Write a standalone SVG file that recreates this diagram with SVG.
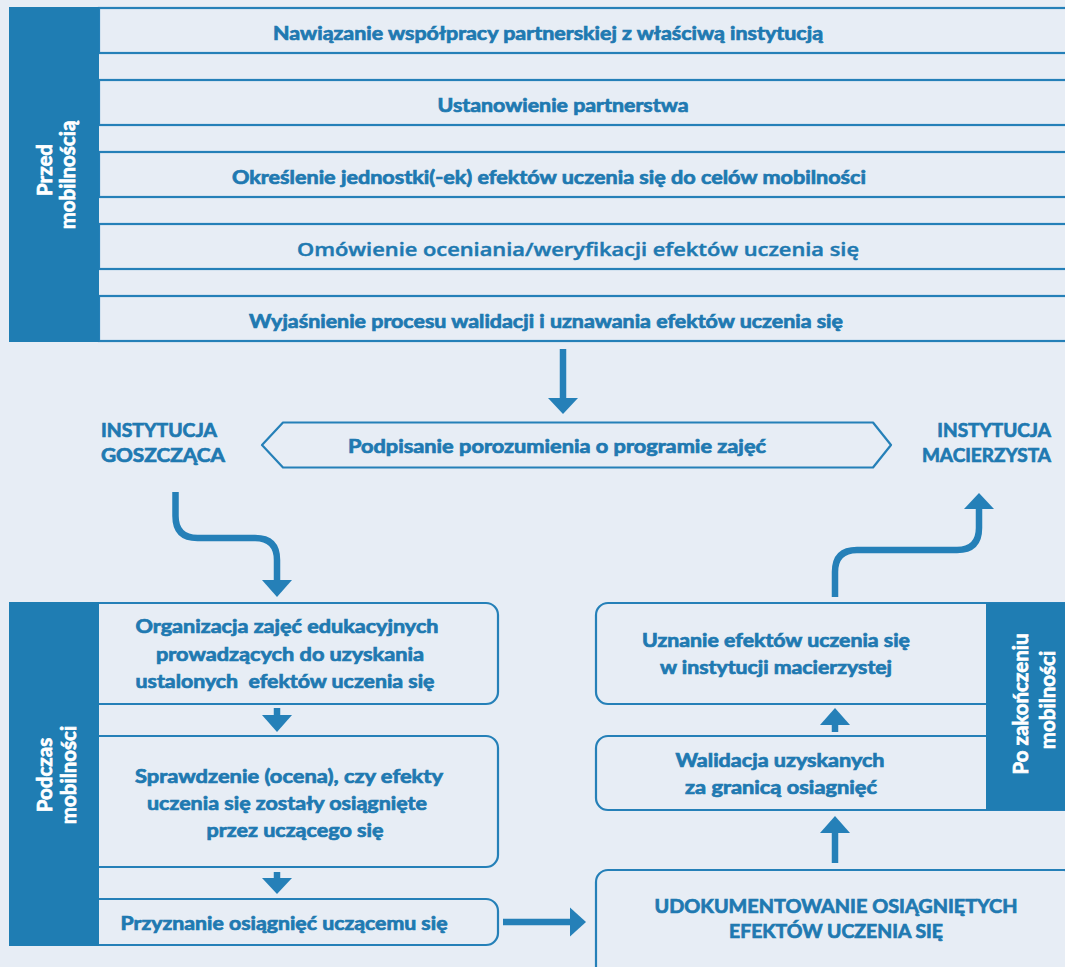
<svg xmlns="http://www.w3.org/2000/svg" width="1065" height="967" viewBox="0 0 1065 967">
<defs>
<style>
.bg{fill:#e7edf5}
.row{fill:#e7edf5;stroke:#2580b8;stroke-width:2.2}
.box{fill:#e7edf5;stroke:#2580b8;stroke-width:2.2}
.bar{fill:#1f7db3}
.t{font-family:Lato,"Liberation Sans","Noto Sans",sans-serif;font-weight:700;font-size:18.5px;fill:#2079b1;stroke:#2079b1;stroke-width:0.7;text-anchor:middle}
.o{font-family:"Open Sans","Noto Sans",sans-serif;font-weight:600;font-size:18px;fill:#2079b1;stroke:#2079b1;stroke-width:0.45;text-anchor:middle}
.w{font-family:Lato,"Liberation Sans","Noto Sans",sans-serif;font-weight:700;font-size:20.5px;fill:#ffffff;stroke:#ffffff;stroke-width:0.7;text-anchor:middle}
.big{font-family:Lato,"Liberation Sans","Noto Sans",sans-serif;font-weight:700;font-size:19px;fill:#2079b1;stroke:#2079b1;stroke-width:0.7}
.ln{fill:none;stroke:#2580b8;stroke-width:6.5}
.hd{fill:#2580b8}
</style>
</defs>
<rect class="bg" x="0" y="0" width="1065" height="967"/>

<g id="before">
<rect class="row" x="99" y="8" width="980" height="45"/>
<rect class="row" x="99" y="80" width="980" height="45"/>
<rect class="row" x="99" y="152" width="980" height="45"/>
<rect class="row" x="99" y="224" width="980" height="45"/>
<rect class="row" x="99" y="296" width="980" height="45"/>
<rect class="bar" x="9" y="7" width="90" height="335"/>
<text class="w" transform="translate(52,170) rotate(-90)">Przed</text>
<text class="w" transform="translate(75,175) rotate(-90)">mobilnością</text>
</g>
<g id="row1"><text class="t" x="548" y="40" textLength="550" lengthAdjust="spacingAndGlyphs">Nawiązanie współpracy partnerskiej z właściwą instytucją</text></g>
<g id="row2"><text class="t" x="563" y="112" textLength="251" lengthAdjust="spacingAndGlyphs">Ustanowienie partnerstwa</text></g>
<g id="row3"><text class="t" x="549" y="184" textLength="634" lengthAdjust="spacingAndGlyphs">Określenie jednostki(-ek) efektów uczenia się do celów mobilności</text></g>
<g id="row4"><text class="o" x="578" y="256" textLength="562" lengthAdjust="spacingAndGlyphs">Omówienie oceniania/weryfikacji efektów uczenia się</text></g>
<g id="row5"><text class="t" x="546" y="328" textLength="594" lengthAdjust="spacingAndGlyphs">Wyjaśnienie procesu walidacji i uznawania efektów uczenia się</text></g>

<g id="agreement">
<path d="M262,445 L283,422.5 H873 L891,445 L873,467.5 H283 Z" fill="#e7edf5" stroke="#2580b8" stroke-width="2.2" stroke-linejoin="round"/>
<text class="t" x="557" y="453" textLength="418" lengthAdjust="spacingAndGlyphs">Podpisanie porozumienia o programie zajęć</text>
</g>
<g id="host">
<text class="big" x="101" y="437" textLength="116" lengthAdjust="spacingAndGlyphs">INSTYTUCJA</text>
<text class="big" x="101" y="462" textLength="124" lengthAdjust="spacingAndGlyphs">GOSZCZĄCA</text>
</g>
<g id="home">
<text class="big" x="1051" y="437" text-anchor="end">INSTYTUCJA</text>
<text class="big" x="1051" y="462" text-anchor="end">MACIERZYSTA</text>
</g>

<g id="during">
<rect class="box" x="80" y="603" width="418" height="101" rx="12"/>
<rect class="box" x="80" y="736" width="418" height="131" rx="12"/>
<rect class="box" x="80" y="899" width="418" height="46" rx="12"/>
<rect class="bar" x="9" y="602" width="90" height="344"/>
<text class="w" transform="translate(52,775) rotate(-90)">Podczas</text>
<text class="w" transform="translate(76,775) rotate(-90)">mobilności</text>
</g>
<g id="organise">
<text class="t" x="287" y="633" textLength="303" lengthAdjust="spacingAndGlyphs">Organizacja zajęć edukacyjnych</text>
<text class="t" x="290" y="661" textLength="268" lengthAdjust="spacingAndGlyphs">prowadzących do uzyskania</text>
<text class="t" x="285" y="688" textLength="299" lengthAdjust="spacingAndGlyphs" style="white-space:pre">ustalonych  efektów uczenia się</text>
</g>
<g id="assess">
<text class="t" x="289" y="783" textLength="308" lengthAdjust="spacingAndGlyphs">Sprawdzenie (ocena), czy efekty</text>
<text class="t" x="287" y="810" textLength="280" lengthAdjust="spacingAndGlyphs">uczenia się zostały osiągnięte</text>
<text class="t" x="295" y="837" textLength="177" lengthAdjust="spacingAndGlyphs">przez uczącego się</text>
</g>
<g id="award">
<text class="t" x="284" y="930" textLength="327" lengthAdjust="spacingAndGlyphs">Przyznanie osiągnięć uczącemu się</text>
</g>

<g id="after">
<rect class="box" x="596" y="603" width="480" height="101" rx="12"/>
<rect class="box" x="596" y="736" width="480" height="74" rx="12"/>
<rect class="bar" x="986" y="603" width="79" height="207"/>
<text class="w" transform="translate(1028,704) rotate(-90)">Po zakończeniu</text>
<text class="w" transform="translate(1055,700) rotate(-90)">mobilności</text>
</g>
<g id="recognise">
<text class="t" x="776" y="647" textLength="268" lengthAdjust="spacingAndGlyphs">Uznanie efektów uczenia się</text>
<text class="t" x="776" y="674" textLength="232" lengthAdjust="spacingAndGlyphs">w instytucji macierzystej</text>
</g>
<g id="validate">
<text class="t" x="780" y="767" textLength="209" lengthAdjust="spacingAndGlyphs">Walidacja uzyskanych</text>
<text class="t" x="781" y="794" textLength="192" lengthAdjust="spacingAndGlyphs">za granicą osiagnięć</text>
</g>
<g id="document">
<rect class="box" x="596" y="870" width="480" height="110" rx="12"/>
<text class="t" x="836" y="913" textLength="363" lengthAdjust="spacingAndGlyphs">UDOKUMENTOWANIE OSIĄGNIĘTYCH</text>
<text class="t" x="836" y="938" textLength="214" lengthAdjust="spacingAndGlyphs">EFEKTÓW UCZENIA SIĘ</text>
</g>

<g id="connectors">
<path class="ln" d="M563,349 V400"/>
<polygon class="hd" points="548,398 578,398 563,414"/>
<path class="ln" d="M175.5,492 V516 Q175.5,538 197.5,538 H255 Q277,538 277,560 V582"/>
<polygon class="hd" points="262,580 292,580 277,597"/>
<path class="ln" d="M835,597 V572 Q835,550 857,550 H957 Q979,550 979,528 V507"/>
<polygon class="hd" points="964,509 994,509 979,493"/>
<path class="ln" d="M277,708 V717"/>
<polygon class="hd" points="262,715 292,715 277,732"/>
<path class="ln" d="M277,872 V880"/>
<polygon class="hd" points="262,878 292,878 277,894"/>
<path class="ln" d="M835,732 V723"/>
<polygon class="hd" points="820,725 850,725 835,708"/>
<path class="ln" d="M835,863 V831"/>
<polygon class="hd" points="820,833 850,833 835,816"/>
<path class="ln" d="M503,922 H572"/>
<polygon class="hd" points="570,907.5 570,936.5 586,922"/>
</g>
</svg>
